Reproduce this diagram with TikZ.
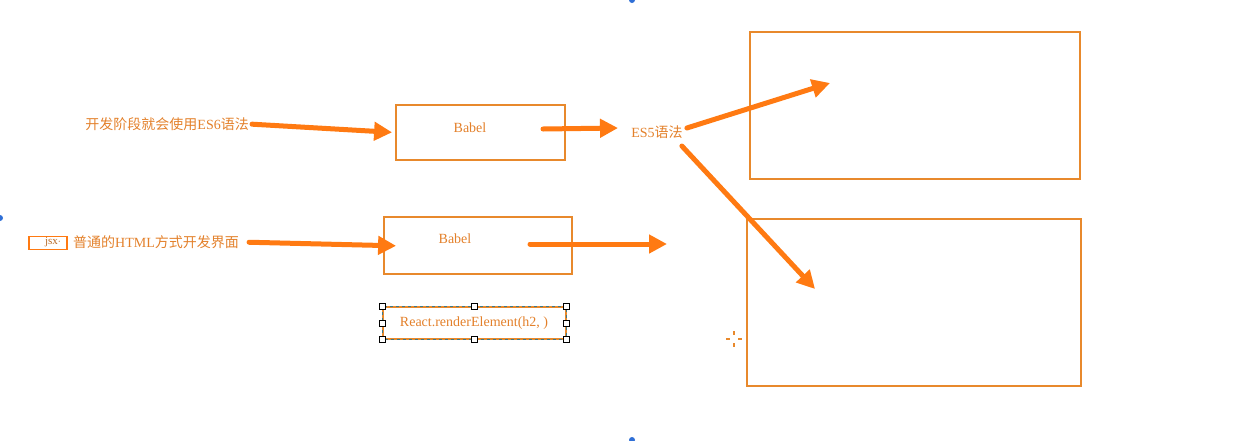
\documentclass[tikz,border=0pt]{standalone}
\usepackage{fontspec}
\setmainfont{Liberation Serif}
\newfontfamily\cjk{Noto Sans CJK SC}
\usetikzlibrary{arrows.meta}
\definecolor{boxorange}{HTML}{E8892C}
\definecolor{arroworange}{HTML}{FF7A12}
\definecolor{txtorange}{HTML}{E3802A}
\definecolor{handleblue}{HTML}{2F6FD6}
\definecolor{dashteal}{HTML}{3C7A8A}
\tikzset{
  frame/.style={draw=boxorange, line width=1.8pt, inner sep=0pt},
  fat/.style={draw=arroworange, line width=5pt, line cap=round,
    -{Triangle[length=18pt,width=18pt]}},
  lbl/.style={text=txtorange, font=\fontsize{14}{16}\selectfont, inner sep=0pt},
  handle/.style={draw=black, fill=white, line width=0.8pt, minimum size=6pt, inner sep=0pt}
}
\begin{document}
\begin{tikzpicture}[x=1pt, y=-1pt]
    \useasboundingbox (0,0) rectangle (1260,440);
    % canvas handles
    \fill[handleblue] (632,0) circle (3);
    \fill[handleblue] (0,218) circle (3);
    \fill[handleblue] (632,440) circle (3);
    % first row
    \node[lbl, anchor=east] (dev) at (249,124) {{\cjk 开发阶段就会使用}ES6{\cjk 语法}};
    \node[frame, minimum width=169pt, minimum height=55pt] (babel1) at (480.5,132.5) {};
    \node[lbl] (babel1txt) at (470,128) {Babel};
    \node[lbl] (es5) at (657,132) {ES5{\cjk 语法}};
    \node[frame, minimum width=330pt, minimum height=147pt] (out1) at (915,105.5) {};
    \node[frame, minimum width=334pt, minimum height=167pt] (out2) at (914,302.5) {};
    % second row
    \node[draw=arroworange, line width=1.6pt, minimum width=38pt, minimum height=13pt] (jsx) at (48,243) {};
    \node[text=txtorange!80!black, font=\fontsize{11}{12}\selectfont, inner sep=0pt] (jsxtxt) at (53,242) {jsx$\cdot$};
    \node[lbl, anchor=west] (html) at (73,242) {{\cjk 普通的}HTML{\cjk 方式开发界面}};
    \node[frame, minimum width=188pt, minimum height=57pt] (babel2) at (478,245.5) {};
    \node[lbl] (babel2txt) at (455,239) {Babel};
    % selected box
    \node[draw=boxorange, line width=1.6pt, minimum width=183pt, minimum height=32pt] (react) at (474.5,323) {};
    \draw[dashteal, line width=0.8pt, dash pattern=on 3pt off 3pt] (react.north west) rectangle (react.south east);
    \node[lbl] (reacttxt) at (474,323) {React.renderElement(h2, )};
    \foreach \a in {north west,north,north east,west,east,south west,south,south east}
        \node[handle] at (react.\a) {};
    % crosshair
    \draw[boxorange, line width=1.2pt] (734,331) -- (734,335) (734,343) -- (734,347)
        (726,339) -- (730,339) (738,339) -- (742,339);
    % free ends
    \coordinate (b1out) at (543,129);
    \coordinate (es5in) at (618,128);
    \coordinate (t1) at (830,83);
    \coordinate (t2) at (815,289);
    \coordinate (b2out) at (530,244);
    \coordinate (b2end) at (667,244);
    % arrows
    \draw[fat, shorten <=3pt, shorten >=3pt] (dev.east) -- (babel1.west);
    \draw[fat] (b1out) -- (es5in);
    \draw[fat] ([shift={(4,-4)}]es5.east) -- (t1);
    \draw[fat] ([shift={(-1,14)}]es5.east) -- (t2);
    \draw[fat, shorten <=10pt, shorten >=-13pt] (html.east) -- (babel2.west);
    \draw[fat] (b2out) -- (b2end);
\end{tikzpicture}
\end{document}
